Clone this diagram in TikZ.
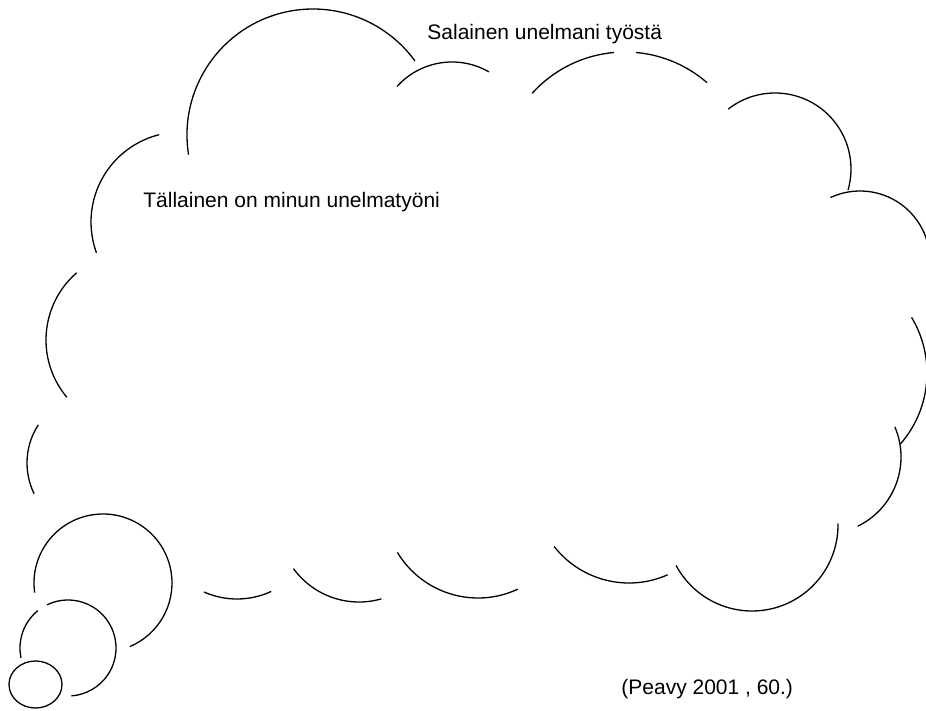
\documentclass[tikz,border=0pt]{standalone}
\usepackage{fontspec}
\setmainfont{Liberation Sans}

\tikzset{
  bump/.style={color=black, line width=.65pt},
  txt/.style={inner sep=0pt, anchor=base west, font=\fontsize{10.5}{12.6}\selectfont}
}

\begin{document}
\begin{tikzpicture}[x=.5pt, y=-.5pt]
\useasboundingbox (0,0) rectangle (926,711);
\clip (0,0) rectangle (926,711);

\node(secret)[txt] at (427,40) {Salainen unelmani työstä};
\node(dream)[txt] at (143,208) {Tällainen on minun unelmatyöni};
\node(source)[txt] at (621,694) {(Peavy 2001 , 60.)};

% cloud, top
\draw[bump] (313,135) ++(171:126) arc[start angle=171, end angle=324, radius=126];
\draw[bump] (452,136) ++(222:74) arc[start angle=222, end angle=300, radius=74];
\draw[bump] (625,177) ++(222:125) arc[start angle=222, end angle=265, radius=125];
\draw[bump] (625,177) ++(275:125) arc[start angle=275, end angle=311, radius=125];
\draw[bump] (775,169) ++(232:76) arc[start angle=232, end angle=376, radius=76];

% cloud, right
\draw[bump] (860,261) ++(245:70) arc[start angle=245, end angle=360, radius=70];
\draw[bump] (819,373) ++(-31:108) arc[start angle=-31, end angle=41, radius=108];
\draw[bump] (824,457) ++(-23:77) arc[start angle=-23, end angle=64, radius=77];

% cloud, bottom
\draw[bump] (752,525) ++(-1:86) arc[start angle=-1, end angle=152, radius=86];
\draw[bump] (629,488) ++(66:95) arc[start angle=66, end angle=142, radius=95];
\draw[bump] (478,504) ++(65:94) arc[start angle=65, end angle=149, radius=94];
\draw[bump] (359,521) ++(74:81) arc[start angle=74, end angle=144, radius=81];
\draw[bump] (237,518) ++(65:81) arc[start angle=65, end angle=114, radius=81];

% cloud, left
\draw[bump] (97,463) ++(154:70) arc[start angle=154, end angle=213, radius=70];
\draw[bump] (135,340) ++(140:89) arc[start angle=140, end angle=229, radius=89];
\draw[bump] (181,222) ++(160:90) arc[start angle=160, end angle=256, radius=90];

% thought bubbles
\draw[bump] (103,583) ++(172:69) arc[start angle=172, end angle=427, radius=69];
\draw[bump] (68,648) ++(168:48) arc[start angle=168, end angle=231, radius=48];
\draw[bump] (68,648) ++(244:48) arc[start angle=244, end angle=446, radius=48];
\draw[bump] (35.5,684.5) ellipse [x radius=26.5, y radius=23.5];
\end{tikzpicture}
\end{document}
